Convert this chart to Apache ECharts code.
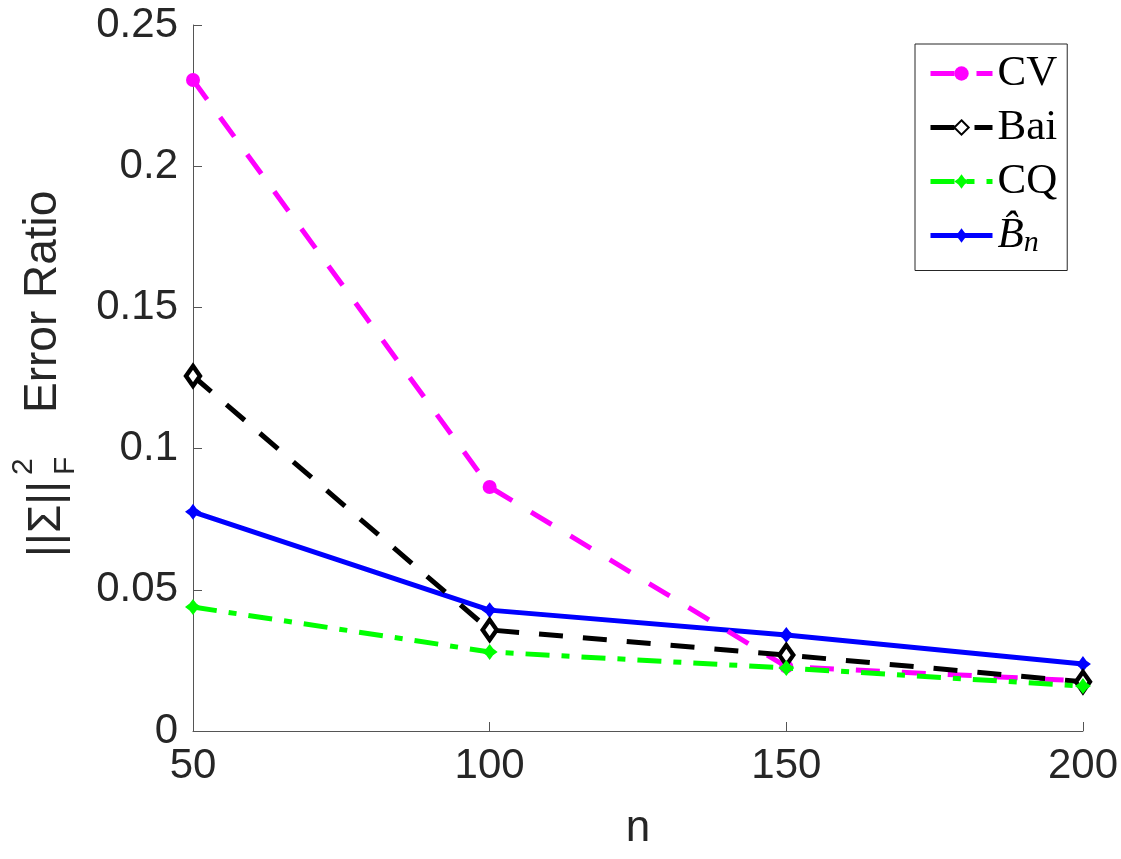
<!DOCTYPE html>
<html>
<head>
<meta charset="utf-8">
<script src="https://cdn.jsdelivr.net/npm/echarts@6/dist/echarts.min.js"></script>
<style>
  html, body { margin: 0; padding: 0; background: #fff; }
  #main { width: 1121px; height: 859px; }
</style>
</head>
<body>
<div id="main"></div>
<script>
// sample sizes on the x axis
const nValues = [50, 100, 150, 200];
// error ratio per method
const cvValues = [0.2305, 0.0864, 0.0228, 0.0177];
const baiValues = [0.1257, 0.0358, 0.0269, 0.0174];
const cqValues = [0.0439, 0.0280, 0.0223, 0.0159];
const bnValues = [0.0776, 0.0428, 0.0340, 0.0237];
const yTicks = [0, 0.05, 0.1, 0.15, 0.2, 0.25];

const chart = echarts.init(document.getElementById("main"));

const axisColor = "#262626";
// fat four-point cross used for CQ and B_n markers
const crossPath = "path://M0,-7 L3,-3 7,0 3,3 0,7 -3,3 -7,0 -3,-3Z";

const pairs = (vals) => nValues.map((n, i) => [n, vals[i]]);

const cvLine = { color: "#ff00ff", width: 5, type: [24, 22] };
const baiLine = { color: "#000", width: 5, type: [24, 20] };
const cqLine = { color: "#00ff00", width: 5, type: [24, 12, 8, 12] };
const bnLine = { color: "#0000ff", width: 5, type: "solid" };

const option = {
  animation: false,
  backgroundColor: "#fff",
  grid: { left: 193, right: 34, top: 25, bottom: 128 },
  xAxis: {
    type: "value",
    min: 50,
    max: 200,
    interval: 50,
    name: "n",
    nameLocation: "middle",
    nameGap: 76,
    nameTextStyle: { fontFamily: "Liberation Sans", fontSize: 44, color: axisColor },
    axisLine: { lineStyle: { color: "#555", width: 1 } },
    axisTick: { inside: true, length: 9, lineStyle: { color: "#555" } },
    axisLabel: { fontFamily: "Liberation Sans", fontSize: 42, color: axisColor, margin: 14 },
    splitLine: { show: false },
  },
  yAxis: {
    type: "value",
    min: 0,
    max: 0.25,
    interval: 0.05,
    axisLine: { show: true, lineStyle: { color: "#555", width: 1 } },
    axisTick: { show: true, inside: true, length: 9, lineStyle: { color: "#555" } },
    axisLabel: {
      fontFamily: "Liberation Sans",
      fontSize: 42,
      color: axisColor,
      margin: 15,
      formatter: (v) => {
        const hit = yTicks.find((t) => Math.abs(t - v) < 1e-9);
        return hit === undefined ? "" : String(hit);
      },
    },
    splitLine: { show: false },
  },
  legend: {
    left: 915,
    top: 44,
    orient: "vertical",
    padding: [8, 10, 12, 13],
    itemGap: 11,
    itemWidth: 62,
    itemHeight: 18,
    backgroundColor: "#fff",
    borderColor: axisColor,
    borderWidth: 1,
    borderRadius: 0,
    data: [
      { name: "CV", lineStyle: cvLine },
      { name: "Bai", lineStyle: baiLine },
      { name: "CQ", lineStyle: cqLine },
      { name: "Bn", lineStyle: bnLine },
    ],
    textStyle: {
      fontFamily: "Liberation Serif",
      fontSize: 43,
      color: "#000",
      rich: {
        b: { fontFamily: "Liberation Serif", fontStyle: "italic", fontSize: 43, color: "#000" },
        s: { fontFamily: "Liberation Serif", fontStyle: "italic", fontSize: 30, color: "#000", padding: [16, 0, 0, 0] },
      },
    },
    formatter: (name) => (name === "Bn" ? "{b|B\u0302}{s|n}" : name),
  },
  series: [
    {
      name: "CV",
      type: "line",
      data: pairs(cvValues),
      symbol: "circle",
      symbolSize: 14,
      itemStyle: { color: "#ff00ff" },
      lineStyle: cvLine,
      z: 2,
    },
    {
      name: "Bai",
      type: "line",
      data: pairs(baiValues),
      symbol: "diamond",
      symbolSize: [14, 20],
      itemStyle: { color: "#fff", borderColor: "#000", borderWidth: 4.5 },
      lineStyle: baiLine,
      z: 3,
    },
    {
      name: "CQ",
      type: "line",
      data: pairs(cqValues),
      symbol: crossPath,
      symbolSize: 16,
      itemStyle: { color: "#00ff00" },
      lineStyle: cqLine,
      z: 4,
    },
    {
      name: "Bn",
      type: "line",
      data: pairs(bnValues),
      symbol: crossPath,
      symbolSize: 16,
      itemStyle: { color: "#0000ff" },
      lineStyle: bnLine,
      z: 1,
    },
  ],
  graphic: [
    {
      type: "group",
      x: 47,
      y: 557,
      rotation: Math.PI / 2,
      children: [
        {
          type: "text",
          x: 0,
          y: 0,
          style: { text: "||\u03A3||", font: "46px 'Liberation Sans'", fill: axisColor, align: "left", verticalAlign: "middle" },
        },
        {
          type: "text",
          x: 82,
          y: -23,
          style: { text: "2", font: "30px 'Liberation Sans'", fill: axisColor, align: "left", verticalAlign: "middle" },
        },
        {
          type: "text",
          x: 82,
          y: 19,
          style: { text: "F", font: "30px 'Liberation Sans'", fill: axisColor, align: "left", verticalAlign: "middle" },
        },
        {
          type: "text",
          x: 144,
          y: -4,
          style: { text: "Error Ratio", font: "46px 'Liberation Sans'", fill: axisColor, align: "left", verticalAlign: "middle" },
        },
      ],
    },
  ],
};

chart.setOption(option);
</script>
</body>
</html>
